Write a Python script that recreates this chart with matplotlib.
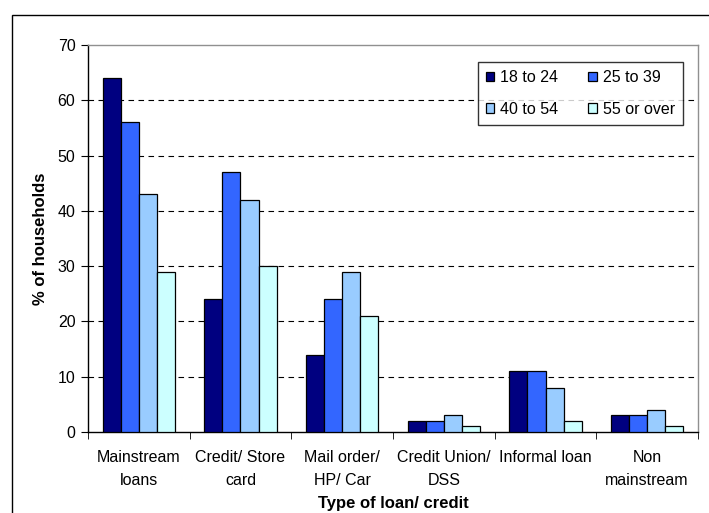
import numpy as np
import matplotlib.pyplot as plt
from matplotlib.patches import Rectangle

plt.rcParams['font.family'] = ['Liberation Sans', 'DejaVu Sans']

# data
categories = ['Mainstream\nloans', 'Credit/ Store\ncard', 'Mail order/\nHP/ Car',
              'Credit Union/\nDSS', 'Informal loan', 'Non\nmainstream']
age_groups = ['18 to 24', '25 to 39', '40 to 54', '55 or over']
v_18_24 = [64, 24, 14, 2, 11, 3]
v_25_39 = [56, 47, 24, 2, 11, 3]
v_40_54 = [43, 42, 29, 3, 8, 4]
v_55_over = [29, 30, 21, 1, 2, 1]
colors = ['#000080', '#3366FF', '#99CCFF', '#CCFFFF']

fig = plt.figure(figsize=(7.09, 5.13), dpi=100)
ax = fig.add_axes([88 / 709, 1 - 432 / 513, 610 / 709, 387 / 513])

# outer chart frame (cut at right and bottom)
fig.patches.append(Rectangle((12 / 709, -0.05), 1.1, 0.05 + 1 - 15 / 513,
                             transform=fig.transFigure, fill=False,
                             edgecolor='black', linewidth=1.0))

x = np.arange(len(categories))
w = 0.178
series = [v_18_24, v_25_39, v_40_54, v_55_over]
bars = []
for i, (vals, c, lab) in enumerate(zip(series, colors, age_groups)):
    b = ax.bar(x + (i - 1.5) * w, vals, w, color=c, edgecolor='black',
               linewidth=0.9, label=lab, zorder=3)
    bars.append(b)

ax.set_xlim(-0.5, len(categories) - 0.5)
ax.set_ylim(0, 70)
ax.set_yticks(np.arange(0, 71, 10))
for yv in range(10, 70, 10):
    ax.axhline(yv, color='black', linestyle=(0, (5, 4)), linewidth=0.8, zorder=1)

ax.set_xticks(x)
ax.set_xticklabels(categories, fontsize=11.5, linespacing=1.65)
ax.tick_params(axis='x', which='major', length=0, pad=13)
ax.set_xticks(np.arange(-0.5, len(categories)), minor=True)
ax.tick_params(axis='x', which='minor', length=5, color='black')
ax.tick_params(axis='y', labelsize=11.5, length=5, color='black', pad=4)

ax.spines['top'].set_color('#909090')
ax.spines['right'].set_color('#909090')
ax.spines['left'].set_color('black')
ax.spines['bottom'].set_color('black')
for s in ax.spines.values():
    s.set_linewidth(1.0)

ax.set_ylabel('% of households', fontsize=12, fontweight='bold', labelpad=7)
ax.set_xlabel('Type of loan/ credit', fontsize=12, fontweight='bold', labelpad=6)

# row-major legend order
order = [0, 2, 1, 3]
leg = ax.legend([bars[k] for k in order], [age_groups[k] for k in order],
                ncol=2, loc='upper right', bbox_to_anchor=(0.975, 0.956),
                borderaxespad=0, fontsize=11.5, frameon=True, fancybox=False,
                edgecolor='black', handlelength=0.55, handleheight=0.55,
                handletextpad=0.37, columnspacing=1.85, borderpad=0.5,
                labelspacing=1.05)
leg.get_frame().set_linewidth(1.0)

fig.savefig('out.png', dpi=100)
